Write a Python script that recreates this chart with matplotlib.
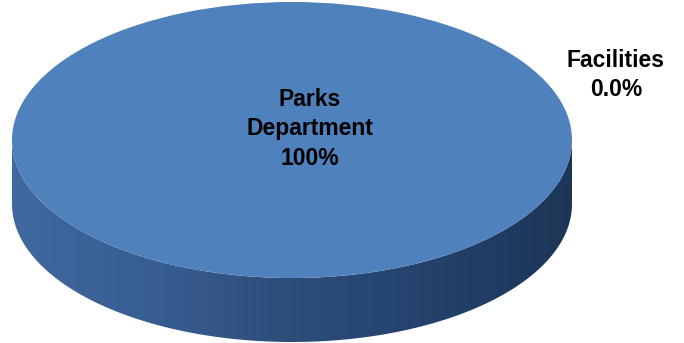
import numpy as np
import matplotlib.pyplot as plt
from matplotlib.patches import Polygon
from matplotlib.colors import LinearSegmentedColormap

# data
categories = ['Parks Department', 'Facilities']
values = [100, 0]
pct_labels = ['100%', '0.0%']

top_color = '#4f81bd'

# pixel geometry of the reference, everything in unit-circle coords
cx, cy = 292, 140      # ellipse centre (px)
rx, ry = 280, 138      # half axes (px)
depth = 64 / ry        # side wall thickness in y units

W, H = 684, 343
fig = plt.figure(figsize=(W / 100, H / 100), dpi=100)
ax = fig.add_axes([0, 0, 1, 1])


def px2d(px, py):
    return (px - cx) / rx, (cy - py) / ry


# side wall (drawn first, top face covers it)
t = np.linspace(np.pi, 2 * np.pi, 200)
xs = np.cos(t)
ys = np.sin(t)
pts = np.vstack([np.column_stack([xs, ys]),
                 np.column_stack([xs[::-1], ys[::-1] - depth])])
wall = Polygon(pts, closed=True, facecolor='none', edgecolor='none')
ax.add_patch(wall)
cmap = LinearSegmentedColormap.from_list(
    'wall', ['#4069a0', '#385e91', '#2d4d7a', '#23416b', '#1d3658'])
grad = np.linspace(0, 1, 256).reshape(1, -1)
im = ax.imshow(grad, cmap=cmap, aspect='auto',
               extent=[-1, 1, -1 - depth, 0], zorder=1)
im.set_clip_path(wall)

# top face
wedges, _ = ax.pie(values, colors=[top_color, top_color], startangle=90,
                   counterclock=False, radius=1, center=(0, 0),
                   wedgeprops=dict(linewidth=0))
for w in wedges:
    w.set_zorder(2)

ax.set_aspect('auto')
x0, y0 = px2d(0, 0)
x1, y1 = px2d(W, H)
ax.set_xlim(x0, x1)
ax.set_ylim(y1, y0)
ax.axis('off')

# labels
font = dict(family='Liberation Sans', fontsize=16.5, fontweight='bold',
            ha='center', va='center', linespacing=1.38, zorder=5)
lx, ly = px2d(310, 129)
ax.text(lx, ly, categories[0].replace(' ', '\n') + '\n' + pct_labels[0], **font)
lx, ly = px2d(616, 75)
ax.text(lx, ly, categories[1] + '\n' + pct_labels[1], **font)

fig.savefig('out.png', dpi=100)
